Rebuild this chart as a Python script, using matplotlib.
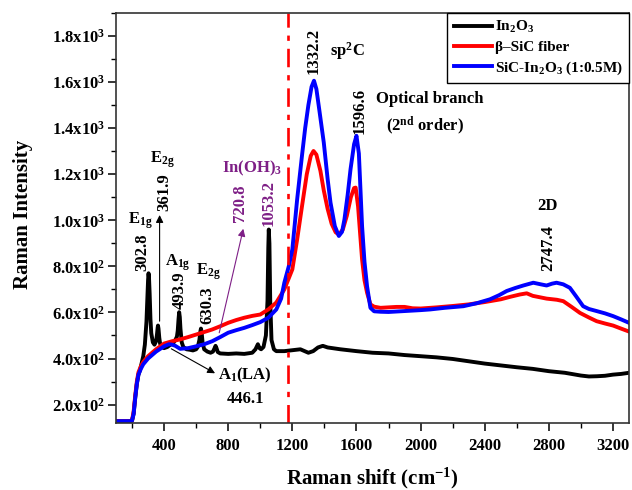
import matplotlib
matplotlib.use("Agg")
import matplotlib.pyplot as plt
from matplotlib.ticker import FuncFormatter, MultipleLocator

plt.rcParams.update({
    "font.family": ["Liberation Serif", "DejaVu Serif"],
    "font.weight": "bold",
    "mathtext.fontset": "custom",
    "mathtext.rm": "Liberation Serif:bold",
    "mathtext.it": "Liberation Serif:bold:italic",
    "mathtext.bf": "Liberation Serif:bold",
    "axes.linewidth": 1.2,
})

PURPLE = "#7e1f86"

# In2O3 spectrum (Raman shift, intensity)
in2o3_x = [100, 150, 190, 200, 210, 220, 230, 240, 250, 260, 270, 280, 290, 295, 300, 303, 306, 310, 315,
           320, 330, 340, 350, 355, 360, 362, 365, 370, 375, 385, 400, 420, 440, 460, 470, 480, 485, 490,
           494, 498, 502, 510, 520, 540, 560, 580, 600, 610, 620, 627, 630, 634, 640, 650, 670, 690, 705,
           715, 721, 727, 735, 750, 800, 850, 900, 950, 970, 985, 995, 1005, 1020, 1035, 1045, 1050, 1053,
           1057, 1062, 1070, 1085, 1100, 1150, 1200, 1250, 1300, 1330, 1360, 1390, 1420, 1500, 1600, 1700,
           1800, 1900, 2000, 2100, 2200, 2300, 2400, 2500, 2600, 2700, 2800, 2900, 3000, 3050, 3100, 3150,
           3200, 3250, 3300]
in2o3_y = [128, 128, 128, 130, 160, 230, 290, 330, 350, 380, 410, 460, 560, 650, 740, 770, 750, 680, 570,
           510, 470, 460, 475, 500, 535, 543, 530, 490, 465, 450, 445, 450, 460, 470, 480, 495, 520, 570,
           601, 580, 530, 470, 450, 440, 438, 435, 440, 450, 480, 520, 530, 515, 470, 440, 430, 425, 430,
           445, 455, 445, 428, 422, 420, 422, 420, 425, 440, 462, 445, 440, 450, 500, 650, 880, 960,
           900, 650, 480, 440, 432, 432, 436, 440, 425, 432, 448, 455, 448, 440, 432, 425,
           422, 415, 410, 405, 398, 388, 378, 370, 362, 355, 345, 338, 326, 322, 323, 325,
           330, 333, 338]

# beta-SiC fiber spectrum
sic_x = [100, 190, 200, 210, 220, 230, 240, 255, 270, 300, 350, 400, 450, 500, 550, 600, 650, 700, 750,
         800, 850, 900, 950, 1000, 1050, 1100, 1150, 1200, 1230, 1260, 1290, 1315, 1332, 1350, 1375, 1396,
         1420, 1445, 1470, 1490, 1515, 1540, 1565, 1585, 1595, 1610, 1635, 1650, 1666, 1687, 1710, 1750,
         1800, 1850, 1900, 1950, 2000, 2100, 2200, 2300, 2400, 2500, 2560, 2620, 2662, 2700, 2786, 2850,
         2890, 2940, 2994, 3050, 3098, 3150, 3201, 3250, 3300]
sic_y = [128, 128, 132, 170, 240, 300, 340, 366, 385, 410, 440, 465, 475, 483, 493, 504, 515, 526, 540,
         555, 567, 577, 585, 591, 613, 643, 700, 787, 917, 1060, 1200, 1280, 1301, 1285, 1215, 1130,
         1050, 985, 948, 938, 960, 1020, 1100, 1140, 1142, 1060, 830, 740, 686, 635, 625, 620,
         622, 624, 624, 618, 617, 622, 628, 635, 645, 657, 668, 678, 683, 672, 660, 655,
         649, 625, 598, 578, 562, 552, 543, 530, 517]

# SiC-In2O3 (1:0.5M) spectrum
mix_x = [100, 190, 200, 210, 220, 230, 240, 255, 270, 300, 350, 400, 430, 450, 470, 500, 550, 600, 650,
         700, 750, 800, 850, 900, 950, 1000, 1050, 1100, 1130, 1150, 1178, 1200, 1230, 1260, 1280, 1300,
         1320, 1335, 1350, 1370, 1396, 1420, 1438, 1465, 1490, 1510, 1525, 1545, 1563, 1585, 1600, 1615,
         1635, 1650, 1666, 1687, 1710, 1750, 1800, 1850, 1900, 2000, 2060, 2150, 2267, 2350, 2433, 2490,
         2537, 2590, 2641, 2703, 2750, 2786, 2820, 2848, 2890, 2931, 2970, 3014, 3050, 3098, 3150, 3201,
         3250, 3300]
mix_y = [128, 128, 130, 160, 230, 290, 330, 355, 375, 400, 430, 453, 462, 460, 455, 442, 445, 453, 462,
         475, 493, 512, 523, 533, 545, 558, 577, 613, 660, 729, 801, 874, 1091, 1280, 1400, 1500,
         1580, 1606, 1570, 1470, 1338, 1180, 1077, 975, 932, 950, 1004, 1110, 1222, 1330, 1367, 1290,
         975, 820, 714, 620, 605, 603, 602, 604, 606, 610, 613, 620, 627, 640, 657, 675,
         693, 706, 717, 729, 722, 717, 725, 729, 722, 707, 670, 627, 615, 606, 596, 584,
         570, 555]

y_ticks = [200, 400, 600, 800, 1000, 1200, 1400, 1600, 1800]
x_ticks = [400, 800, 1200, 1600, 2000, 2400, 2800, 3200]


def sci_label(v, pos):
    if v <= 0:
        return ""
    exp = 3 if v >= 1000 else 2
    return r"$\mathregular{%.1fx10^{%d}}$" % (v / 10 ** exp, exp)


fig = plt.figure(figsize=(6.32, 4.9), dpi=100)
ax = fig.add_axes([116 / 632, 1 - 423 / 490, 513 / 632, 410 / 490])

ax.plot(in2o3_x, in2o3_y, color="black", lw=2.8, label=r"In$\mathregular{_2}$O$\mathregular{_3}$")
ax.plot(sic_x, sic_y, color="red", lw=2.8, label="β–SiC fiber")
ax.plot(mix_x, mix_y, color="blue", lw=2.8, label=r"SiC-In$\mathregular{_2}$O$\mathregular{_3}$ (1:0.5M)")
ax.axvline(1175, color="red", lw=1.9, ls=(0, (7, 3, 2, 3)))

ax.set_xlim(100, 3300)
ax.set_ylim(120, 1900)
ax.set_xticks(x_ticks)
ax.set_yticks(y_ticks)
ax.xaxis.set_minor_locator(MultipleLocator(200))
ax.yaxis.set_minor_locator(MultipleLocator(100))
ax.yaxis.set_major_formatter(FuncFormatter(sci_label))
ax.tick_params(which="major", direction="out", length=6, width=1.1, labelsize=12, pad=2)
ax.tick_params(axis="x", which="major", pad=5)
ax.tick_params(which="minor", direction="out", length=3.5, width=1.0)
for s in ax.spines.values():
    s.set_color("#333333")

ax.set_xlabel(r"Raman shift (cm$\mathregular{^{-1}}$)", fontsize=15, fontweight="bold")
ax.set_ylabel("Raman Intensity", fontsize=15, fontweight="bold")
ax.xaxis.set_label_coords(0.5, -0.105)
ax.yaxis.set_label_coords(-0.162, 0.51)

leg = ax.legend(loc="upper right", borderaxespad=0, fontsize=11, handlelength=2.5, handletextpad=0.2,
                labelspacing=0.35, borderpad=0.4, fancybox=False, framealpha=1)
leg.get_frame().set_edgecolor("black")
leg.get_frame().set_linewidth(1.0)

fs = 12


def vtext(x, y, s, color="black"):
    ax.text(x, y, s, rotation=90, ha="center", va="bottom", fontsize=fs, color=color, fontweight="bold")


def htext(x, y, s, color="black"):
    ax.text(x, y, s, ha="center", va="center", fontsize=fs, color=color, fontweight="bold")


vtext(266, 778, "302.8")
htext(252, 1000, r"E$\mathregular{_{1g}}$")
ax.annotate("", xy=(372, 1035), xytext=(372, 550),
            arrowprops=dict(arrowstyle="-|>", color="black", lw=0.8, mutation_scale=11))
vtext(402, 1039, "361.9")
htext(389, 1265, r"E$\mathregular{_{2g}}$")
htext(486, 817, r"A$\mathregular{_{1g}}$")
vtext(495, 613, "493.9")
htext(679, 778, r"E$\mathregular{_{2g}}$")
vtext(669, 548, "630.3")
ax.annotate("", xy=(733, 330), xytext=(430, 448),
            arrowprops=dict(arrowstyle="-|>", color="black", lw=0.8, mutation_scale=11))
htext(906, 325, r"A$\mathregular{_1}$(LA)")
htext(909, 224, "446.1")
ax.annotate("", xy=(898, 975), xytext=(740, 500),
            arrowprops=dict(arrowstyle="-|>", color=PURPLE, lw=0.8, mutation_scale=11))
vtext(875, 991, "720.8", PURPLE)
vtext(1049, 974, "1053.2", PURPLE)
htext(949, 1226, r"In(OH)$\mathregular{_3}$", PURPLE)
vtext(1335, 1635, "1332.2")
htext(1544, 1735, r"sp$\mathregular{^2}$C")
vtext(1618, 1374, "1596.6")
htext(2054, 1526, "Optical branch")
htext(2029, 1409, r"(2$\mathregular{^{nd}}$ order)")
htext(2794, 1061, "2D")
vtext(2798, 780, "2747.4")

fig.savefig("out.png", dpi=100)
